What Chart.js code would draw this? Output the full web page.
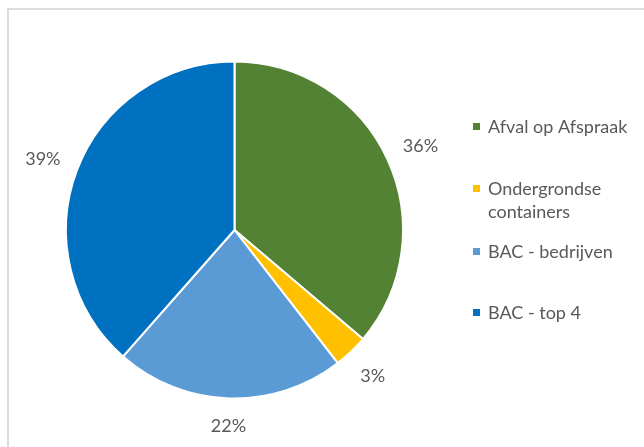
<!DOCTYPE html>
<html>
<head>
<meta charset="utf-8">
<script src="https://cdn.jsdelivr.net/npm/chart.js@4/dist/chart.umd.min.js"></script>
<style>
  html, body { margin: 0; padding: 0; background: #ffffff; }
  #wrap { position: relative; width: 644px; height: 447px; overflow: hidden; }
  #frame { position: absolute; left: 7px; top: 8px; width: 700px; height: 500px;
           border-left: 2px solid #dcdcdc; border-top: 2px solid #dcdcdc; box-sizing: border-box; }
  canvas { position: absolute; left: 0; top: 0; }
</style>
</head>
<body>
<div id="wrap">
  <div id="frame"></div>
  <canvas id="c" width="644" height="447"></canvas>
</div>
<script>
const categories = [
  'Afval op Afspraak',
  ['Ondergrondse', 'containers'],
  'BAC - bedrijven',
  'BAC - top 4'
];
const shares = [36.2, 3.3, 22.0, 38.5];
const sliceColors = ['#548235', '#FFC000', '#5B9BD5', '#0070C0'];

const FONT = 'Lato, "Open Sans", sans-serif';
const TEXT_COLOR = '#595959';

const pctLabels = {
  id: 'pctLabels',
  afterDatasetsDraw(chart) {
    const ctx = chart.ctx;
    const meta = chart.getDatasetMeta(0);
    const data = chart.data.datasets[0].data;
    const total = data.reduce((a, b) => a + b, 0);
    ctx.save();
    ctx.font = '18px ' + FONT;
    ctx.fillStyle = TEXT_COLOR;
    ctx.textAlign = 'center';
    ctx.textBaseline = 'middle';
    meta.data.forEach((arc, i) => {
      const p = arc.getProps(['x', 'y', 'startAngle', 'endAngle', 'outerRadius'], true);
      const mid = (p.startAngle + p.endAngle) / 2;
      const txt = Math.round(data[i] / total * 100) + '%';
      const w = ctx.measureText(txt).width;
      const h = 16;
      const c = Math.cos(mid), s = Math.sin(mid);
      const dist = p.outerRadius + 17 + Math.abs(c) * w / 2 + Math.abs(s) * h / 2;
      ctx.fillText(txt, p.x + c * dist, p.y + s * dist + 2);
    });
    ctx.restore();
  }
};

const sideLegend = {
  id: 'sideLegend',
  afterDraw(chart) {
    const ctx = chart.ctx;
    const labels = chart.data.labels;
    const colors = chart.data.datasets[0].backgroundColor;
    const markerX = 473, textX = 488;
    const itemY = [126, 188, 251, 312];
    const lineH = 23;
    ctx.save();
    ctx.font = '18px ' + FONT;
    ctx.textAlign = 'left';
    ctx.textBaseline = 'middle';
    labels.forEach((lab, i) => {
      const lines = Array.isArray(lab) ? lab : [lab];
      const y = itemY[i];
      ctx.fillStyle = colors[i];
      ctx.fillRect(markerX, y - 3, 7, 7);
      ctx.fillStyle = TEXT_COLOR;
      lines.forEach((ln, j) => ctx.fillText(ln, textX, y + 1 + j * lineH));
    });
    ctx.restore();
  }
};

new Chart(document.getElementById('c'), {
  type: 'pie',
  data: {
    labels: categories,
    datasets: [{
      data: shares,
      backgroundColor: sliceColors,
      borderColor: '#ffffff',
      borderWidth: 2,
      hoverOffset: 0,
      offset: 0
    }]
  },
  options: {
    responsive: false,
    animation: false,
    events: [],
    layout: { padding: { left: 65, right: 240, top: 60.5, bottom: 47.5 } },
    plugins: {
      legend: { display: false },
      tooltip: { enabled: false },
      title: { display: false }
    }
  },
  plugins: [pctLabels, sideLegend]
});
</script>
</body>
</html>
